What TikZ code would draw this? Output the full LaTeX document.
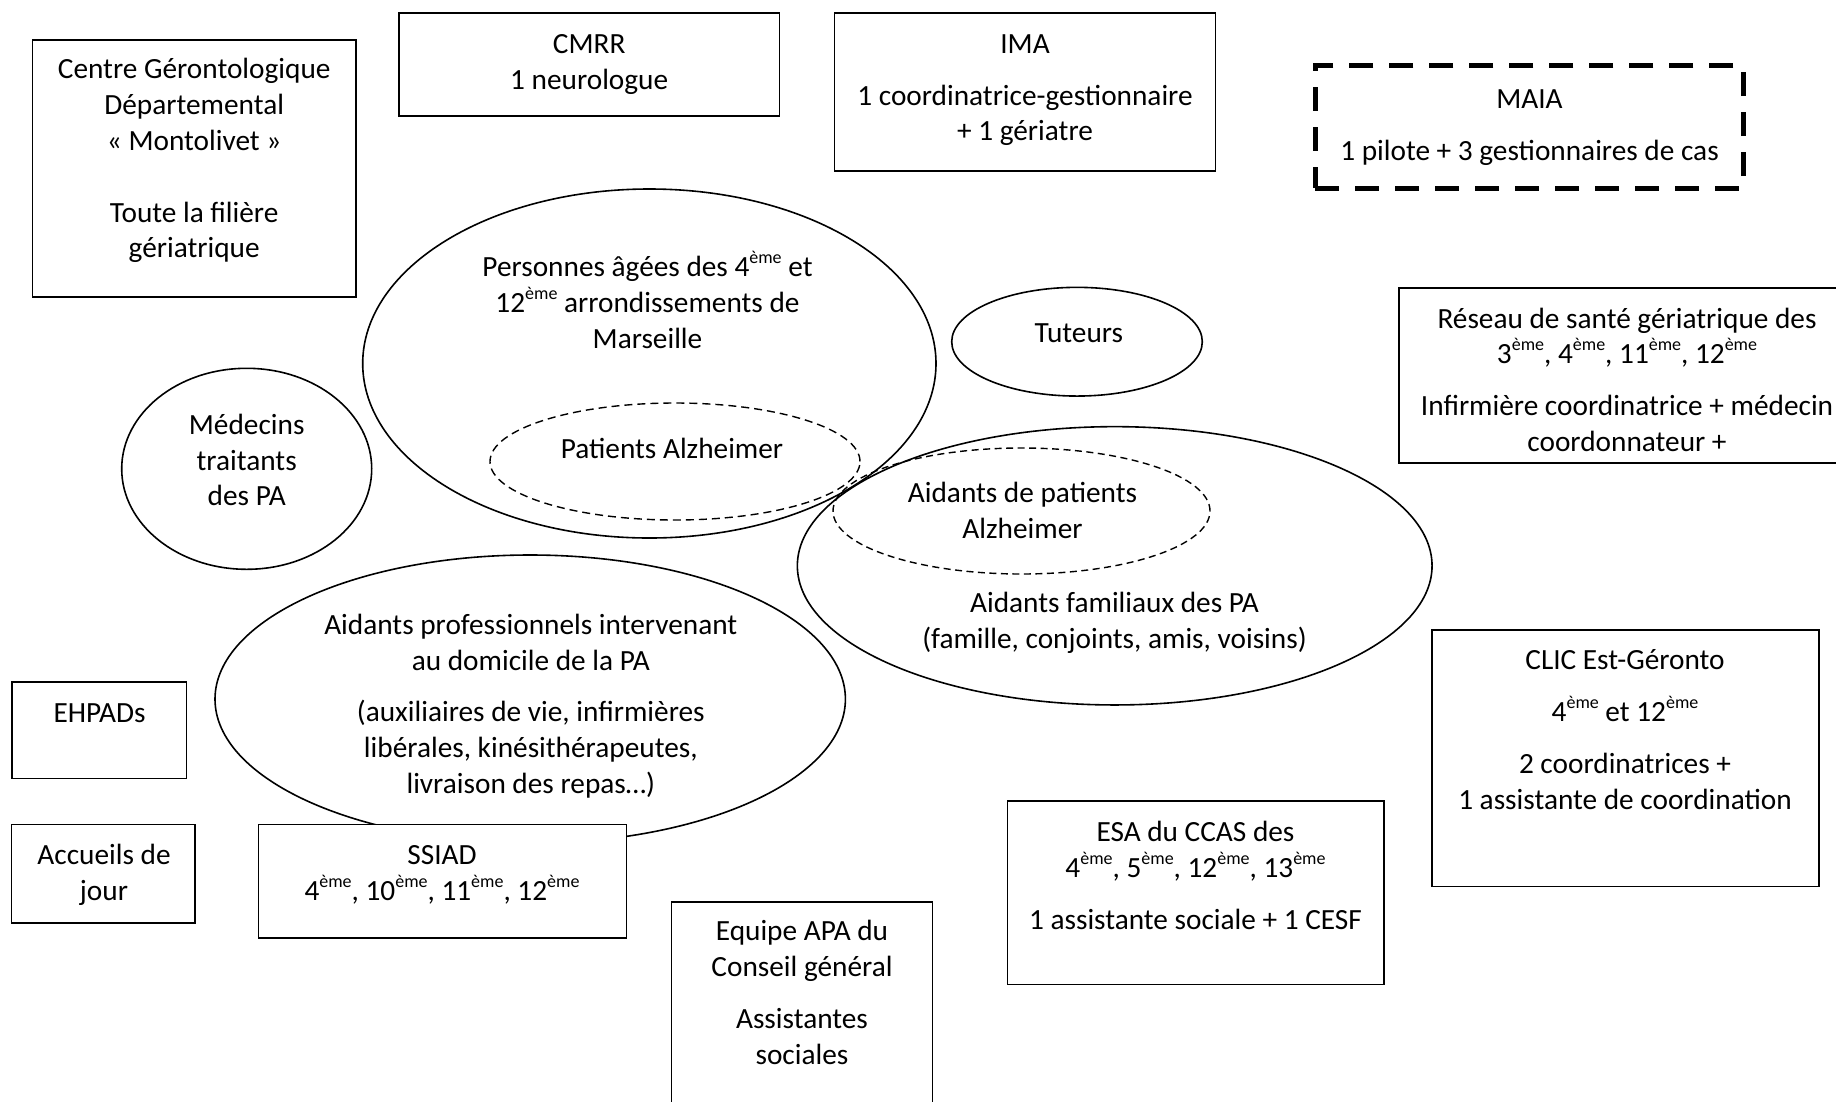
\documentclass[tikz,border=0pt]{standalone}
\usepackage{fontspec}
\setmainfont{Carlito}
\usetikzlibrary{shapes.geometric}
\newcommand\st{\rule{0pt}{27pt}}
\newcommand\sups[1]{\raisebox{13pt}{\fontsize{18}{18}\selectfont #1}}
\tikzset{
  box/.style={draw=black, line width=1.6pt, rectangle, inner sep=0pt, outer sep=0pt},
  oval/.style={draw=black, line width=1.6pt, ellipse, inner sep=0pt, outer sep=0pt},
  dashoval/.style={draw=black, line width=1.4pt, ellipse, inner sep=0pt, outer sep=0pt, dash pattern=on 8pt off 5pt},
  thickdash/.style={draw=black, line width=5pt, rectangle, inner sep=0pt, outer sep=0pt, dash pattern=on 24pt off 16pt},
  txt/.style={font=\fontsize{29.3}{35.8}\selectfont, align=center, inner sep=0pt, outer sep=0pt, anchor=north, text=black, yshift=-1.5pt}
}
\begin{document}
\begin{tikzpicture}[x=1pt, y=-1pt]
\fill[white] (0,0) rectangle (1836,1101);
\useasboundingbox (0,0) rectangle (1836,1101);

% ellipses
\node[oval, minimum width=573.3pt, minimum height=349pt] (pa) at (649.35,363.5) {};
\node[dashoval, minimum width=370pt, minimum height=117pt] (alz) at (675,461.5) {};
\node[oval, minimum width=250.6pt, minimum height=108.7pt] (tut) at (1077,341.7) {};
\node[oval, minimum width=250pt, minimum height=201pt] (med) at (246.7,468.8) {};
\node[oval, minimum width=634.7pt, minimum height=278.3pt] (fam) at (1114.7,565.8) {};
\node[dashoval, dash pattern=on 7pt off 4.5pt, minimum width=377pt, minimum height=126pt] (aalz) at (1021.5,511) {};
\node[oval, minimum width=630.4pt, minimum height=288.2pt] (pro) at (530.2,699.1) {};

% boxes
\node[box, minimum width=323.9pt, minimum height=256.7pt] (cgd) at (194.25,168.35) {};
\node[box, minimum width=380.3pt, minimum height=103.3pt] (cmrr) at (589.15,64.35) {};
\node[box, minimum width=381pt, minimum height=158.3pt] (ima) at (1024.8,91.85) {};
\node[thickdash, minimum width=428pt, minimum height=122.4pt] (maia) at (1529,127) {};
\node[box, minimum width=456pt, minimum height=175pt] (res) at (1627,375.5) {};
\node[box, minimum width=174.9pt, minimum height=96.6pt] (ehpad) at (99.15,730) {};
\node[box, minimum width=183.7pt, minimum height=98.4pt] (acc) at (103.35,873.5) {};
\node[box, fill=white, minimum width=368pt, minimum height=113.4pt] (ssiad) at (442.3,881) {};
\node[box, minimum width=260.8pt, minimum height=213.3pt] (apa) at (802,1008.35) {};
\node[box, minimum width=376.5pt, minimum height=183.3pt] (esa) at (1195.75,892.65) {};
\node[box, minimum width=387.3pt, minimum height=256.5pt] (clic) at (1625.55,758.25) {};

% texts
\node[txt] (cgd-t) at (194.2,50.3) {\st Centre Gérontologique\\ Départemental\\ « Montolivet »\\[35.8pt] Toute la filière\\ gériatrique};
\node[txt] (cmrr-t) at (589.2,24.7) {\st CMRR\\ 1 neurologue};
\node[txt] (ima-t) at (1025,24.7) {\st IMA\\[16pt] 1 coordinatrice-gestionnaire\\ + 1 gériatre};
\node[txt] (maia-t) at (1529.5,80.3) {\st MAIA\\[16pt] 1 pilote + 3 gestionnaires de cas};
\node[txt] (res-t) at (1627,299.5) {\st Réseau de santé gériatrique des\\ 3\sups{ème}, 4\sups{ème}, 11\sups{ème}, 12\sups{ème}\\[16pt] Infirmière coordinatrice + médecin\\ coordonnateur +};
\node[txt] (pa-t) at (647.5,248) {\st Personnes âgées des 4\sups{ème} et\\ 12\sups{ème} arrondissements de\\ Marseille};
\node[txt] (alz-t) at (672,429.7) {\st Patients Alzheimer};
\node[txt] (tut-t) at (1078.8,313.7) {\st Tuteurs};
\node[txt] (med-t) at (246.7,405.7) {\st Médecins\\ traitants\\ des PA};
\node[txt] (aalz-t) at (1022.5,474) {\st Aidants de patients\\ Alzheimer};
\node[txt] (fam-t) at (1114.5,583.7) {\st Aidants familiaux des PA\\ (famille, conjoints, amis, voisins)};
\node[txt] (pro-t) at (530.8,605.7) {\st Aidants professionnels intervenant\\ au domicile de la PA\\[16pt] (auxiliaires de vie, infirmières\\ libérales, kinésithérapeutes,\\ livraison des repas…)};
\node[txt] (ehpad-t) at (99.5,693.7) {\st EHPADs};
\node[txt] (acc-t) at (104,835.7) {\st Accueils de\\ jour};
\node[txt] (ssiad-t) at (442,835.7) {\st SSIAD\\ 4\sups{ème}, 10\sups{ème}, 11\sups{ème}, 12\sups{ème}};
\node[txt] (apa-t) at (802,912.3) {\st Equipe APA du\\ Conseil général\\[16pt] Assistantes\\ sociales};
\node[txt] (esa-t) at (1195.5,813) {\st ESA du CCAS des\\ 4\sups{ème}, 5\sups{ème}, 12\sups{ème}, 13\sups{ème}\\[16pt] 1 assistante sociale + 1 CESF};
\node[txt] (clic-t) at (1625,641.3) {\st CLIC Est-Géronto\\[16pt] 4\sups{ème} et 12\sups{ème}\\[16pt] 2 coordinatrices +\\ 1 assistante de coordination};
\end{tikzpicture}
\end{document}
